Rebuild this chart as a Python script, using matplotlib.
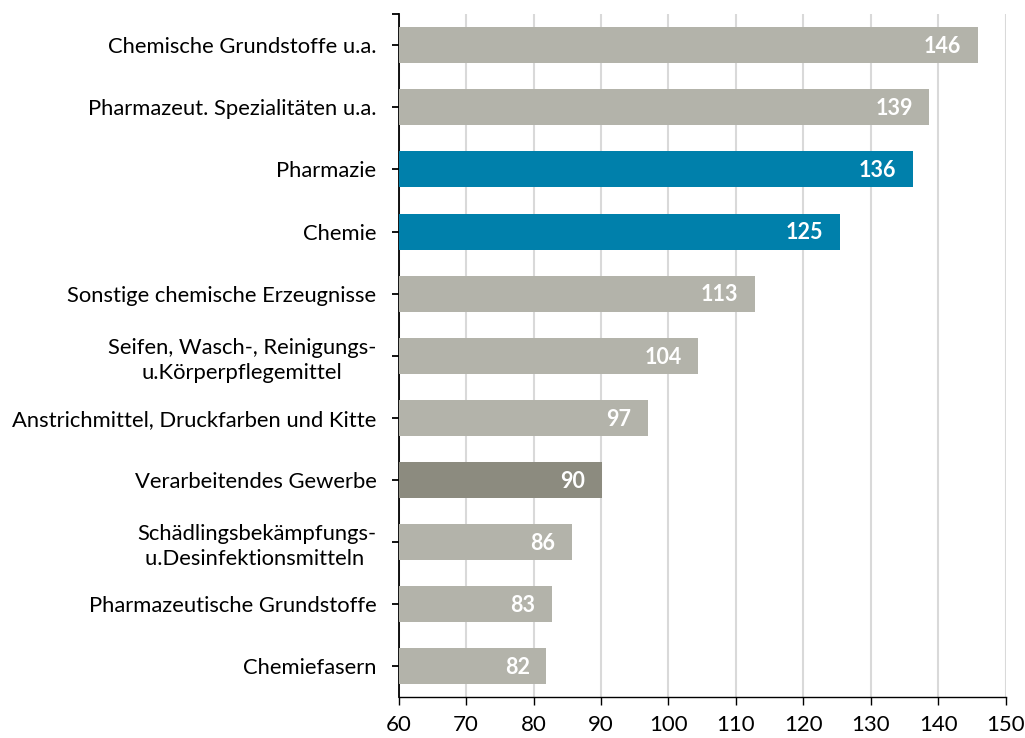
import matplotlib
matplotlib.use("Agg")
import matplotlib.pyplot as plt

categories = [
    "Chemische Grundstoffe u.a.",
    "Pharmazeut. Spezialitäten u.a.",
    "Pharmazie",
    "Chemie",
    "Sonstige chemische Erzeugnisse",
    "Seifen, Wasch-, Reinigungs-\nu.Körperpflegemittel",
    "Anstrichmittel, Druckfarben und Kitte",
    "Verarbeitendes Gewerbe",
    "Schädlingsbekämpfungs-\nu.Desinfektionsmitteln ",
    "Pharmazeutische Grundstoffe",
    "Chemiefasern",
]
values = [145.9, 138.7, 136.3, 125.4, 112.8, 104.4, 97.0, 90.1, 85.7, 82.7, 81.9]
labels = ["146", "139", "136", "125", "113", "104", "97", "90", "86", "83", "82"]
kinds = ["g", "g", "b", "b", "g", "g", "g", "d", "g", "g", "g"]
xticks = [60, 70, 80, 90, 100, 110, 120, 130, 140, 150]

colors = {"g": "#b3b3aa", "b": "#0080ab", "d": "#8c8b7f"}

plt.rcParams['font.family'] = ['Lato', 'DejaVu Sans']

fig = plt.figure(figsize=(10.25, 7.38), dpi=100)
ax = fig.add_axes([0.389, 0.0556, 0.592, 0.925])

ypos = list(range(len(categories)))
ax.barh(ypos, [v - 60 for v in values], left=60, height=0.58,
        color=[colors[k] for k in kinds], zorder=3)

for y, v, t in zip(ypos, values, labels):
    ax.annotate(t, (v, y), xytext=(-12, -1), textcoords="offset points",
                ha="right", va="center", color="white", fontsize=15.5,
                fontweight="bold", zorder=4)

ax.set_xlim(60, 150)
ax.set_ylim(len(categories) - 0.5, -0.5)
ax.set_xticks(xticks)
ax.set_xticklabels([str(x) for x in xticks], fontsize=16)
ax.set_yticks(ypos)
ax.set_yticklabels(categories, fontsize=15.8, multialignment="center",
                   linespacing=1.35)
ax.set_yticks([-0.5], minor=True)

ax.grid(axis="x", color="#d9d9d9", linewidth=1.5, zorder=0)
ax.set_axisbelow(True)
for s in ["top", "right"]:
    ax.spines[s].set_visible(False)
ax.spines["left"].set_color("black")
ax.spines["left"].set_linewidth(1.3)
ax.spines["bottom"].set_color("black")
ax.spines["bottom"].set_linewidth(1.0)
ax.tick_params(axis="y", which="both", length=5, width=1.3, pad=11)
ax.tick_params(axis="x", length=6, width=1.0, pad=7)

fig.savefig("out.png", dpi=100)
